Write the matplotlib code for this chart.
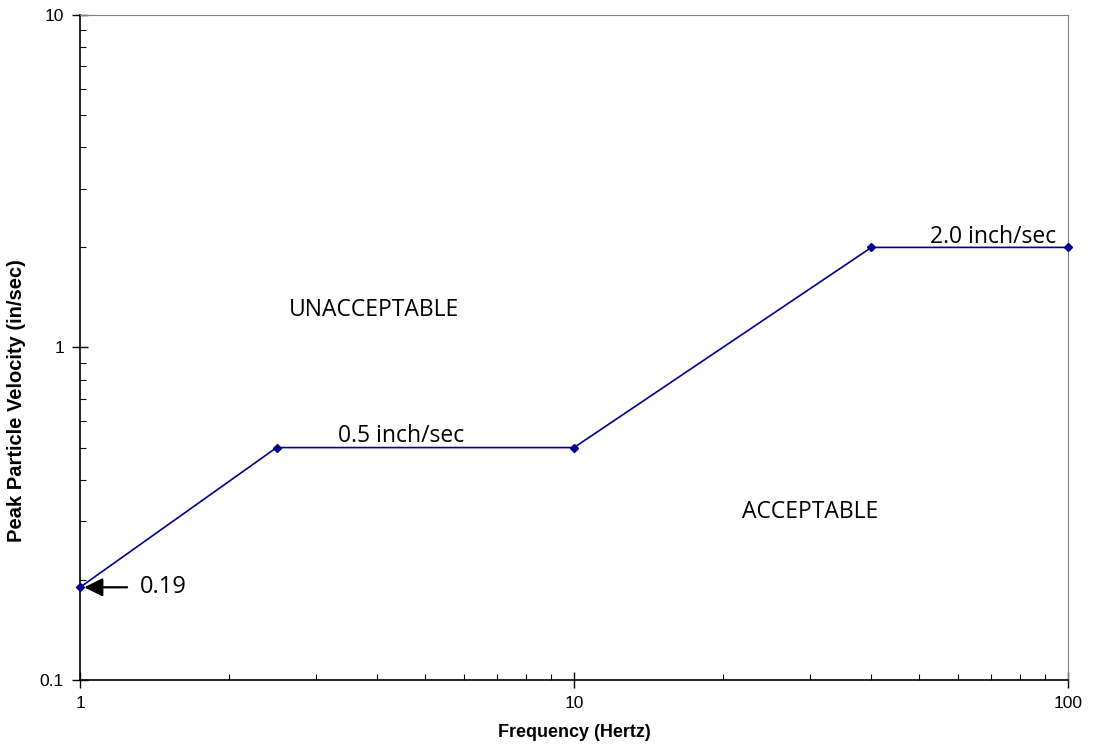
import matplotlib
matplotlib.use("Agg")
import matplotlib.pyplot as plt
from matplotlib.ticker import LogLocator, FixedLocator, FixedFormatter, NullFormatter

# vibration criterion curve
freq = [1, 2.5, 10, 40, 100]
ppv = [0.19, 0.5, 0.5, 2.0, 2.0]

x_ticks = [1, 10, 100]
x_tick_labels = ["1", "10", "100"]
y_ticks = [0.1, 1, 10]
y_tick_labels = ["0.1", "1", "10"]

plt.rcParams["font.family"] = "Liberation Sans"
plt.rcParams["xtick.labelsize"] = 12.5
plt.rcParams["ytick.labelsize"] = 12.5

fig = plt.figure(figsize=(10.99, 7.46), dpi=100)
ax = fig.add_axes([0.0728, 0.0885, 0.899, 0.8914])

ax.plot(freq, ppv, color="#00008B", linewidth=1.2, marker="D", markersize=4.5,
        clip_on=False, zorder=3)

ax.set_xscale("log")
ax.set_yscale("log")
ax.set_xlim(1, 100)
ax.set_ylim(0.1, 10)

ax.xaxis.set_major_locator(FixedLocator(x_ticks))
ax.xaxis.set_major_formatter(FixedFormatter(x_tick_labels))
ax.yaxis.set_major_locator(FixedLocator(y_ticks))
ax.yaxis.set_major_formatter(FixedFormatter(y_tick_labels))
ax.xaxis.set_minor_locator(LogLocator(base=10, subs=range(2, 10)))
ax.yaxis.set_minor_locator(LogLocator(base=10, subs=range(2, 10)))
ax.xaxis.set_minor_formatter(NullFormatter())
ax.yaxis.set_minor_formatter(NullFormatter())

ax.tick_params(which="major", direction="inout", length=11, width=1, pad=6)
ax.tick_params(which="minor", direction="in", length=4, width=0.8)
ax.tick_params(top=False, right=False, which="both")

for side in ["left", "bottom"]:
    ax.spines[side].set_linewidth(1.2)
for side in ["top", "right"]:
    ax.spines[side].set_color("#808080")
    ax.spines[side].set_linewidth(0.8)

ax.set_xlabel("Frequency (Hertz)", fontsize=13, fontweight="bold")
ax.set_ylabel("Peak Particle Velocity (in/sec)", fontsize=14.5, fontweight="bold")
ax.xaxis.set_label_coords(0.5, -0.066)
ax.yaxis.set_label_coords(-0.055, 0.42)

txt_font = "Open Sans"
ax.text(3.94, 1.3, "UNACCEPTABLE", fontsize=16.5, family=txt_font,
        ha="center", va="center")
ax.text(30, 0.32, "ACCEPTABLE", fontsize=16.5, family=txt_font,
        ha="center", va="center")
ax.text(4.47, 0.5, "0.5 inch/sec", fontsize=16.5, family=txt_font,
        ha="center", va="bottom")
ax.text(70.5, 1.98, "2.0 inch/sec", fontsize=16.5, family=txt_font,
        ha="center", va="bottom")
ax.annotate("0.19", xy=(1.02, 0.19), xytext=(1.32, 0.19), fontsize=17,
            family=txt_font, va="center", ha="left",
            arrowprops=dict(arrowstyle="-|>", color="black", lw=1.6,
                            mutation_scale=28, shrinkA=7, shrinkB=0))

fig.savefig("out.png", dpi=100)
